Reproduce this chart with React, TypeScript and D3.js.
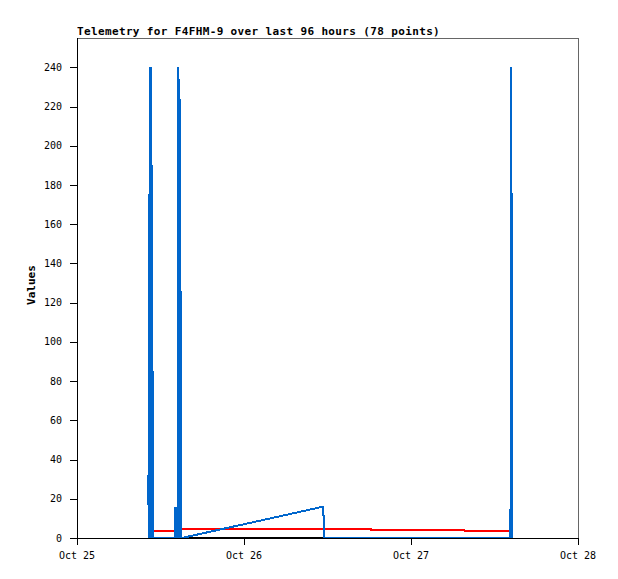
import * as d3 from "d3";

// hours since Oct 25 00:00 UTC, and the values
const startDay = Date.UTC(2023, 9, 25);
const endDay = Date.UTC(2023, 9, 28);
const dayTicks = ["Oct 25", "Oct 26", "Oct 27", "Oct 28"];
const yTicks = [0, 20, 40, 60, 80, 100, 120, 140, 160, 180, 200, 220, 240];

const blueHours = [10.2, 10.25, 10.3, 10.35, 10.45, 10.55, 10.62, 10.7, 10.78, 10.85, 10.92,
  14.05, 14.1, 14.2, 14.3, 14.45, 14.55, 14.65, 14.72, 14.8, 14.88, 14.95, 15.05,
  35.4, 35.5, 48.0, 62.3, 62.35, 62.42, 62.48, 62.52, 62.58];
const blueValues = [17, 32, 17, 0, 240, 0, 240, 208, 0, 88, 0,
  0, 16, 0, 16, 0, 240, 224, 0, 224, 120, 0, 0,
  16, 0, 0, 0, 240, 0, 176, 88, 0];

const redHours = [10.2, 14.9, 15.0, 30.0, 42.2, 42.3, 50.0, 55.6, 55.7, 62.3, 62.4, 62.55];
const redValues = [3.8, 3.8, 4.6, 4.6, 4.6, 4.0, 4.0, 4.0, 3.5, 3.6, 4.6, 4.6];

const blackHours = [10.2, 20.0, 35.5, 48.0, 62.55];
const blackValues = [0, 0, 0, 0, 0];

const W = 618;
const H = 579;
const m = { left: 77, right: 578, top: 38, bottom: 538 };
const mono = "'DejaVu Sans Mono', monospace";

const toDate = (h: number) => new Date(startDay + h * 3600 * 1000);

export default function App() {
  const x = d3.scaleUtc().domain([new Date(startDay), new Date(endDay)]).range([m.left, m.right]);
  const y = d3.scaleLinear().domain([0, 255]).range([m.bottom, m.top]);
  const line = d3.line<[number, number]>().x((d) => x(toDate(d[0]))).y((d) => y(d[1]));

  const series = [
    { hours: blackHours, values: blackValues, color: "#000000" },
    { hours: redHours, values: redValues, color: "#ff0000" },
    { hours: blueHours, values: blueValues, color: "#0066cc" },
  ];
  const days = d3.range(dayTicks.length).map((i) => new Date(startDay + i * 86400000));

  return (
    <svg width={W} height={H} style={{ position: "absolute", left: 0, top: 0, background: "#fff" }}>
      <text x={m.left} y={35} fontFamily={mono} fontSize={11} fontWeight="bold" letterSpacing={0.36}>
        Telemetry for F4FHM-9 over last 96 hours (78 points)
      </text>
      <text transform={`translate(35,${(m.top + m.bottom) / 2 - 3}) rotate(-90)`} textAnchor="middle"
        fontFamily={mono} fontSize={11} fontWeight="bold">Values</text>

      <line x1={m.left} x2={m.right} y1={m.top + 0.5} y2={m.top + 0.5} stroke="#666" />
      <line x1={m.right + 0.5} x2={m.right + 0.5} y1={m.top} y2={m.bottom} stroke="#666" />

      {series.map((s, i) => (
        <path key={i} d={line(s.hours.map((h, j) => [h, s.values[j]] as [number, number])) ?? ""}
          fill="none" stroke={s.color} strokeWidth={2} shapeRendering="crispEdges" />
      ))}

      <line x1={m.left + 0.5} x2={m.left + 0.5} y1={m.top} y2={m.bottom + 1} stroke="#000" />
      <line x1={m.left} x2={m.right + 1} y1={m.bottom + 0.5} y2={m.bottom + 0.5} stroke="#000" />

      {yTicks.map((t) => (
        <g key={t}>
          <line x1={70} x2={m.left} y1={Math.round(y(t)) + 0.5} y2={Math.round(y(t)) + 0.5} stroke="#000" />
          <text x={62} y={y(t)} dy="0.35em" textAnchor="end" fontFamily={mono} fontSize={10}>{t}</text>
        </g>
      ))}
      {days.map((d, i) => (
        <g key={i}>
          <line x1={Math.round(x(d)) + 0.5} x2={Math.round(x(d)) + 0.5} y1={m.bottom} y2={m.bottom + 7} stroke="#000" />
          <text x={x(d)} y={559} textAnchor="middle" fontFamily={mono} fontSize={10}>{dayTicks[i]}</text>
        </g>
      ))}
    </svg>
  );
}
